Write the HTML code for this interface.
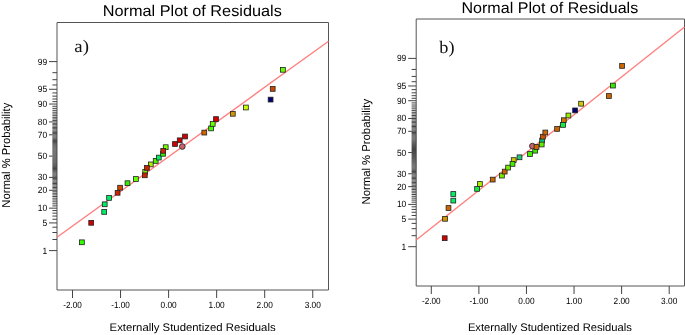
<!DOCTYPE html>
<html><head><meta charset="utf-8"><style>
html,body{margin:0;padding:0;background:#fff;}
body{width:685px;height:335px;overflow:hidden;}
svg{display:block;will-change:transform;}
text{text-rendering:geometricPrecision;}
.tl{font-family:"Liberation Sans", sans-serif;font-size:9px;fill:#000;}
.title{font-family:"Liberation Sans", sans-serif;font-size:15.5px;text-rendering:geometricPrecision;fill:#000;}
.axl{font-family:"Liberation Sans", sans-serif;font-size:11px;fill:#000;}
.yl{font-size:11.5px;}
.plab{font-family:"Liberation Serif", serif;font-size:17.5px;fill:#111;}
</style></head><body>
<svg width="685" height="335" viewBox="0 0 685 335">
<path d="M57,290 L57,22.5 L328.5,22.5 L328.5,290 Z" fill="none" stroke="#555555" stroke-width="1"/>
<path d="M52.40,239.52H57M52.40,232.50H57M52.40,227.21H57M52.40,219.25H57M52.40,216.05H57M52.40,213.17H57M52.40,210.56H57M52.40,205.92H57M52.40,203.83H57M52.40,201.85H57M52.40,199.98H57M52.40,198.20H57M52.40,196.49H57M52.40,194.86H57M52.40,193.28H57M52.40,191.76H57M52.40,188.86H57M52.40,187.47H57M52.40,186.11H57M52.40,184.79H57M52.40,183.50H57M52.40,182.23H57M52.40,180.99H57M52.40,179.78H57M52.40,178.58H57M52.40,176.24H57M52.40,175.10H57M52.40,173.97H57M52.40,172.85H57M52.40,171.75H57M52.40,170.66H57M52.40,169.58H57M52.40,168.51H57M52.40,167.45H57M52.40,166.39H57M52.40,165.34H57M52.40,164.30H57M52.40,163.26H57M52.40,162.23H57M52.40,161.20H57M52.40,160.18H57M52.40,159.16H57M52.40,158.14H57M52.40,157.12H57M52.40,155.08H57M52.40,154.06H57M52.40,153.04H57M52.40,152.02H57M52.40,151.00H57M52.40,149.97H57M52.40,148.94H57M52.40,147.90H57M52.40,146.86H57M52.40,145.81H57M52.40,144.75H57M52.40,143.69H57M52.40,142.62H57M52.40,141.54H57M52.40,140.45H57M52.40,139.35H57M52.40,138.23H57M52.40,137.10H57M52.40,135.96H57M52.40,133.62H57M52.40,132.42H57M52.40,131.21H57M52.40,129.97H57M52.40,128.70H57M52.40,127.41H57M52.40,126.09H57M52.40,124.73H57M52.40,123.34H57M52.40,120.44H57M52.40,118.92H57M52.40,117.34H57M52.40,115.71H57M52.40,114.00H57M52.40,112.22H57M52.40,110.35H57M52.40,108.37H57M52.40,106.28H57M52.40,101.64H57M52.40,99.03H57M52.40,96.15H57M52.40,92.95H57M52.40,84.99H57M52.40,79.70H57M52.40,72.68H57" stroke="#444" stroke-width="1" fill="none"/>
<path d="M49.00,250.60H57M49.00,222.91H57M49.00,208.16H57M49.00,190.29H57M49.00,177.40H57M49.00,156.10H57M49.00,134.80H57M49.00,121.91H57M49.00,104.04H57M49.00,89.29H57M49.00,61.60H57" stroke="#444444" stroke-width="1" fill="none"/>
<text x="42.40" y="253.60" textLength="4.7" lengthAdjust="spacingAndGlyphs" class="tl">1</text>
<text x="42.40" y="225.91" textLength="4.7" lengthAdjust="spacingAndGlyphs" class="tl">5</text>
<text x="37.70" y="211.16" textLength="9.4" lengthAdjust="spacingAndGlyphs" class="tl">10</text>
<text x="37.70" y="193.29" textLength="9.4" lengthAdjust="spacingAndGlyphs" class="tl">20</text>
<text x="37.70" y="180.40" textLength="9.4" lengthAdjust="spacingAndGlyphs" class="tl">30</text>
<text x="37.70" y="159.10" textLength="9.4" lengthAdjust="spacingAndGlyphs" class="tl">50</text>
<text x="37.70" y="137.80" textLength="9.4" lengthAdjust="spacingAndGlyphs" class="tl">70</text>
<text x="37.70" y="124.91" textLength="9.4" lengthAdjust="spacingAndGlyphs" class="tl">80</text>
<text x="37.70" y="107.04" textLength="9.4" lengthAdjust="spacingAndGlyphs" class="tl">90</text>
<text x="37.70" y="92.29" textLength="9.4" lengthAdjust="spacingAndGlyphs" class="tl">95</text>
<text x="37.70" y="64.60" textLength="9.4" lengthAdjust="spacingAndGlyphs" class="tl">99</text>
<text x="63.20" y="308.00" textLength="18.6" lengthAdjust="spacingAndGlyphs" class="tl">-2.00</text>
<text x="111.25" y="308.00" textLength="18.6" lengthAdjust="spacingAndGlyphs" class="tl">-1.00</text>
<text x="160.50" y="308.00" textLength="16.2" lengthAdjust="spacingAndGlyphs" class="tl">0.00</text>
<text x="208.55" y="308.00" textLength="16.2" lengthAdjust="spacingAndGlyphs" class="tl">1.00</text>
<text x="256.60" y="308.00" textLength="16.2" lengthAdjust="spacingAndGlyphs" class="tl">2.00</text>
<text x="304.65" y="308.00" textLength="16.2" lengthAdjust="spacingAndGlyphs" class="tl">3.00</text>
<path d="M72.50,290V298M120.55,290V298M168.60,290V298M216.65,290V298M264.70,290V298M312.75,290V298" stroke="#444444" stroke-width="1" fill="none"/>
<line x1="57" y1="237.2" x2="328.5" y2="41.2" stroke="#ff8080" stroke-width="1.4"/>
<rect x="79.50" y="239.90" width="4.8" height="4.8" fill="#33ff00" stroke="#222" stroke-width="0.8"/>
<rect x="88.80" y="220.40" width="4.8" height="4.8" fill="#d00000" stroke="#222" stroke-width="0.8"/>
<rect x="101.80" y="209.50" width="4.8" height="4.8" fill="#00ee66" stroke="#222" stroke-width="0.8"/>
<rect x="102.30" y="201.90" width="4.8" height="4.8" fill="#00ee66" stroke="#222" stroke-width="0.8"/>
<rect x="106.70" y="195.50" width="4.8" height="4.8" fill="#00ee66" stroke="#222" stroke-width="0.8"/>
<rect x="115.20" y="190.40" width="4.8" height="4.8" fill="#cc2200" stroke="#222" stroke-width="0.8"/>
<rect x="117.70" y="185.30" width="4.8" height="4.8" fill="#cc4a00" stroke="#222" stroke-width="0.8"/>
<rect x="125.10" y="180.80" width="4.8" height="4.8" fill="#33ee00" stroke="#222" stroke-width="0.8"/>
<rect x="133.50" y="176.60" width="4.8" height="4.8" fill="#66ff00" stroke="#222" stroke-width="0.8"/>
<rect x="142.80" y="169.40" width="4.8" height="4.8" fill="#88ee00" stroke="#222" stroke-width="0.8"/>
<rect x="142.40" y="172.90" width="4.8" height="4.8" fill="#cc2200" stroke="#222" stroke-width="0.8"/>
<rect x="148.40" y="162.00" width="4.8" height="4.8" fill="#aaee00" stroke="#222" stroke-width="0.8"/>
<rect x="144.50" y="165.50" width="4.8" height="4.8" fill="#cc2200" stroke="#222" stroke-width="0.8"/>
<rect x="153.30" y="158.50" width="4.8" height="4.8" fill="#55ee00" stroke="#222" stroke-width="0.8"/>
<rect x="156.40" y="155.20" width="4.8" height="4.8" fill="#00ee66" stroke="#222" stroke-width="0.8"/>
<rect x="160.60" y="151.40" width="4.8" height="4.8" fill="#33ee00" stroke="#222" stroke-width="0.8"/>
<rect x="163.30" y="144.80" width="4.8" height="4.8" fill="#77ff00" stroke="#222" stroke-width="0.8"/>
<rect x="160.80" y="148.40" width="4.8" height="4.8" fill="#cc2200" stroke="#222" stroke-width="0.8"/>
<rect x="172.60" y="141.60" width="4.8" height="4.8" fill="#d00000" stroke="#222" stroke-width="0.8"/>
<rect x="177.30" y="137.90" width="4.8" height="4.8" fill="#d00000" stroke="#222" stroke-width="0.8"/>
<rect x="182.60" y="134.10" width="4.8" height="4.8" fill="#d00000" stroke="#222" stroke-width="0.8"/>
<circle cx="182.3" cy="146.5" r="2.85" fill="#c8646e" stroke="#2a2a2a" stroke-width="0.9"/>
<rect x="201.90" y="130.20" width="4.8" height="4.8" fill="#cc6600" stroke="#222" stroke-width="0.8"/>
<rect x="208.70" y="126.00" width="4.8" height="4.8" fill="#44ff00" stroke="#222" stroke-width="0.8"/>
<rect x="210.30" y="121.50" width="4.8" height="4.8" fill="#66ff00" stroke="#222" stroke-width="0.8"/>
<rect x="213.60" y="116.70" width="4.8" height="4.8" fill="#d00000" stroke="#222" stroke-width="0.8"/>
<rect x="230.40" y="111.40" width="4.8" height="4.8" fill="#cc9900" stroke="#222" stroke-width="0.8"/>
<rect x="243.50" y="105.10" width="4.8" height="4.8" fill="#ccff00" stroke="#222" stroke-width="0.8"/>
<rect x="268.20" y="97.20" width="4.8" height="4.8" fill="#000077" stroke="#222" stroke-width="0.8"/>
<rect x="270.30" y="86.50" width="4.8" height="4.8" fill="#cc4a00" stroke="#222" stroke-width="0.8"/>
<rect x="280.50" y="67.40" width="4.8" height="4.8" fill="#66ff00" stroke="#222" stroke-width="0.8"/>
<text x="102.8" y="16.2" textLength="179.0" lengthAdjust="spacingAndGlyphs" class="title">Normal Plot of Residuals</text>
<text x="74.3" y="52" textLength="14.6" lengthAdjust="spacingAndGlyphs" class="plab">a)</text>
<text transform="translate(9.7,155.2) rotate(-90)" x="-52.5" y="0" textLength="105" lengthAdjust="spacingAndGlyphs" class="axl yl">Normal % Probability</text>
<text x="109.6" y="331" textLength="166" lengthAdjust="spacingAndGlyphs" class="axl">Externally Studentized Residuals</text>
<path d="M416.2,286 L416.2,19.0 L684.5,19.0 L684.5,286 Z" fill="none" stroke="#555555" stroke-width="1"/>
<path d="M411.60,235.67H416.2M411.60,228.67H416.2M411.60,223.40H416.2M411.60,215.47H416.2M411.60,212.28H416.2M411.60,209.41H416.2M411.60,206.81H416.2M411.60,202.19H416.2M411.60,200.10H416.2M411.60,198.14H416.2M411.60,196.27H416.2M411.60,194.49H416.2M411.60,192.80H416.2M411.60,191.17H416.2M411.60,189.59H416.2M411.60,188.08H416.2M411.60,185.19H416.2M411.60,183.80H416.2M411.60,182.45H416.2M411.60,181.13H416.2M411.60,179.85H416.2M411.60,178.59H416.2M411.60,177.35H416.2M411.60,176.14H416.2M411.60,174.95H416.2M411.60,172.62H416.2M411.60,171.48H416.2M411.60,170.35H416.2M411.60,169.24H416.2M411.60,168.14H416.2M411.60,167.06H416.2M411.60,165.98H416.2M411.60,164.91H416.2M411.60,163.85H416.2M411.60,162.80H416.2M411.60,161.76H416.2M411.60,160.72H416.2M411.60,159.69H416.2M411.60,158.66H416.2M411.60,157.64H416.2M411.60,156.61H416.2M411.60,155.60H416.2M411.60,154.58H416.2M411.60,153.56H416.2M411.60,151.54H416.2M411.60,150.52H416.2M411.60,149.50H416.2M411.60,148.49H416.2M411.60,147.46H416.2M411.60,146.44H416.2M411.60,145.41H416.2M411.60,144.38H416.2M411.60,143.34H416.2M411.60,142.30H416.2M411.60,141.25H416.2M411.60,140.19H416.2M411.60,139.12H416.2M411.60,138.04H416.2M411.60,136.96H416.2M411.60,135.86H416.2M411.60,134.75H416.2M411.60,133.62H416.2M411.60,132.48H416.2M411.60,130.15H416.2M411.60,128.96H416.2M411.60,127.75H416.2M411.60,126.51H416.2M411.60,125.25H416.2M411.60,123.97H416.2M411.60,122.65H416.2M411.60,121.30H416.2M411.60,119.91H416.2M411.60,117.02H416.2M411.60,115.51H416.2M411.60,113.93H416.2M411.60,112.30H416.2M411.60,110.61H416.2M411.60,108.83H416.2M411.60,106.96H416.2M411.60,105.00H416.2M411.60,102.91H416.2M411.60,98.29H416.2M411.60,95.69H416.2M411.60,92.82H416.2M411.60,89.63H416.2M411.60,81.70H416.2M411.60,76.43H416.2M411.60,69.43H416.2" stroke="#444" stroke-width="1" fill="none"/>
<path d="M408.20,246.70H416.2M408.20,219.12H416.2M408.20,204.41H416.2M408.20,186.61H416.2M408.20,173.77H416.2M408.20,152.55H416.2M408.20,131.33H416.2M408.20,118.49H416.2M408.20,100.69H416.2M408.20,85.98H416.2M408.20,58.40H416.2" stroke="#444444" stroke-width="1" fill="none"/>
<text x="401.60" y="249.70" textLength="4.7" lengthAdjust="spacingAndGlyphs" class="tl">1</text>
<text x="401.60" y="222.12" textLength="4.7" lengthAdjust="spacingAndGlyphs" class="tl">5</text>
<text x="396.90" y="207.41" textLength="9.4" lengthAdjust="spacingAndGlyphs" class="tl">10</text>
<text x="396.90" y="189.61" textLength="9.4" lengthAdjust="spacingAndGlyphs" class="tl">20</text>
<text x="396.90" y="176.77" textLength="9.4" lengthAdjust="spacingAndGlyphs" class="tl">30</text>
<text x="396.90" y="155.55" textLength="9.4" lengthAdjust="spacingAndGlyphs" class="tl">50</text>
<text x="396.90" y="134.33" textLength="9.4" lengthAdjust="spacingAndGlyphs" class="tl">70</text>
<text x="396.90" y="121.49" textLength="9.4" lengthAdjust="spacingAndGlyphs" class="tl">80</text>
<text x="396.90" y="103.69" textLength="9.4" lengthAdjust="spacingAndGlyphs" class="tl">90</text>
<text x="396.90" y="88.98" textLength="9.4" lengthAdjust="spacingAndGlyphs" class="tl">95</text>
<text x="396.90" y="61.40" textLength="9.4" lengthAdjust="spacingAndGlyphs" class="tl">99</text>
<text x="422.00" y="304.00" textLength="18.6" lengthAdjust="spacingAndGlyphs" class="tl">-2.00</text>
<text x="469.58" y="304.00" textLength="18.6" lengthAdjust="spacingAndGlyphs" class="tl">-1.00</text>
<text x="518.36" y="304.00" textLength="16.2" lengthAdjust="spacingAndGlyphs" class="tl">0.00</text>
<text x="565.94" y="304.00" textLength="16.2" lengthAdjust="spacingAndGlyphs" class="tl">1.00</text>
<text x="613.52" y="304.00" textLength="16.2" lengthAdjust="spacingAndGlyphs" class="tl">2.00</text>
<text x="661.10" y="304.00" textLength="16.2" lengthAdjust="spacingAndGlyphs" class="tl">3.00</text>
<path d="M431.30,286V294M478.88,286V294M526.46,286V294M574.04,286V294M621.62,286V294M669.20,286V294" stroke="#444444" stroke-width="1" fill="none"/>
<line x1="416.2" y1="240.0" x2="684.5" y2="27.0" stroke="#ff8080" stroke-width="1.4"/>
<rect x="442.30" y="235.80" width="4.8" height="4.8" fill="#d00000" stroke="#222" stroke-width="0.8"/>
<rect x="442.60" y="216.40" width="4.8" height="4.8" fill="#cc9900" stroke="#222" stroke-width="0.8"/>
<rect x="446.10" y="205.60" width="4.8" height="4.8" fill="#cc6600" stroke="#222" stroke-width="0.8"/>
<rect x="450.90" y="198.20" width="4.8" height="4.8" fill="#00ee66" stroke="#222" stroke-width="0.8"/>
<rect x="450.90" y="191.60" width="4.8" height="4.8" fill="#00ee66" stroke="#222" stroke-width="0.8"/>
<rect x="474.70" y="186.50" width="4.8" height="4.8" fill="#11ee44" stroke="#222" stroke-width="0.8"/>
<rect x="477.50" y="181.60" width="4.8" height="4.8" fill="#aaee00" stroke="#222" stroke-width="0.8"/>
<rect x="490.30" y="177.20" width="4.8" height="4.8" fill="#cc6600" stroke="#222" stroke-width="0.8"/>
<rect x="499.50" y="173.20" width="4.8" height="4.8" fill="#77ee00" stroke="#222" stroke-width="0.8"/>
<rect x="502.30" y="169.20" width="4.8" height="4.8" fill="#cc6600" stroke="#222" stroke-width="0.8"/>
<rect x="511.30" y="157.70" width="4.8" height="4.8" fill="#cccc00" stroke="#222" stroke-width="0.8"/>
<rect x="505.70" y="165.20" width="4.8" height="4.8" fill="#77ee00" stroke="#222" stroke-width="0.8"/>
<rect x="510.10" y="161.50" width="4.8" height="4.8" fill="#44ee00" stroke="#222" stroke-width="0.8"/>
<rect x="517.10" y="154.90" width="4.8" height="4.8" fill="#22cc77" stroke="#222" stroke-width="0.8"/>
<rect x="527.60" y="151.60" width="4.8" height="4.8" fill="#44ee00" stroke="#222" stroke-width="0.8"/>
<rect x="532.80" y="148.30" width="4.8" height="4.8" fill="#33ee00" stroke="#222" stroke-width="0.8"/>
<rect x="539.70" y="138.10" width="4.8" height="4.8" fill="#00cc77" stroke="#222" stroke-width="0.8"/>
<rect x="539.30" y="142.10" width="4.8" height="4.8" fill="#66ee00" stroke="#222" stroke-width="0.8"/>
<circle cx="532.4" cy="146.1" r="2.85" fill="#c8646e" stroke="#2a2a2a" stroke-width="0.9"/>
<rect x="534.10" y="144.60" width="4.8" height="4.8" fill="#cc6600" stroke="#222" stroke-width="0.8"/>
<rect x="540.50" y="134.30" width="4.8" height="4.8" fill="#cc5500" stroke="#222" stroke-width="0.8"/>
<rect x="542.90" y="130.10" width="4.8" height="4.8" fill="#cc6600" stroke="#222" stroke-width="0.8"/>
<rect x="554.70" y="126.50" width="4.8" height="4.8" fill="#cc6600" stroke="#222" stroke-width="0.8"/>
<rect x="561.40" y="117.80" width="4.8" height="4.8" fill="#cc7700" stroke="#222" stroke-width="0.8"/>
<rect x="560.60" y="122.50" width="4.8" height="4.8" fill="#11ee44" stroke="#222" stroke-width="0.8"/>
<rect x="566.00" y="113.10" width="4.8" height="4.8" fill="#99ee00" stroke="#222" stroke-width="0.8"/>
<rect x="572.70" y="108.00" width="4.8" height="4.8" fill="#000077" stroke="#222" stroke-width="0.8"/>
<rect x="578.70" y="101.30" width="4.8" height="4.8" fill="#cccc00" stroke="#222" stroke-width="0.8"/>
<rect x="606.50" y="93.60" width="4.8" height="4.8" fill="#cc6600" stroke="#222" stroke-width="0.8"/>
<rect x="610.50" y="83.20" width="4.8" height="4.8" fill="#33ee00" stroke="#222" stroke-width="0.8"/>
<rect x="619.70" y="63.50" width="4.8" height="4.8" fill="#cc6600" stroke="#222" stroke-width="0.8"/>
<text x="461.5" y="13.0" textLength="176.7" lengthAdjust="spacingAndGlyphs" class="title">Normal Plot of Residuals</text>
<text x="439.3" y="52.5" textLength="15.2" lengthAdjust="spacingAndGlyphs" class="plab">b)</text>
<text transform="translate(369.5,151.7) rotate(-90)" x="-52.75" y="0" textLength="105.5" lengthAdjust="spacingAndGlyphs" class="axl yl">Normal % Probability</text>
<text x="467.9" y="331" textLength="164" lengthAdjust="spacingAndGlyphs" class="axl">Externally Studentized Residuals</text>
</svg>
</body></html>
